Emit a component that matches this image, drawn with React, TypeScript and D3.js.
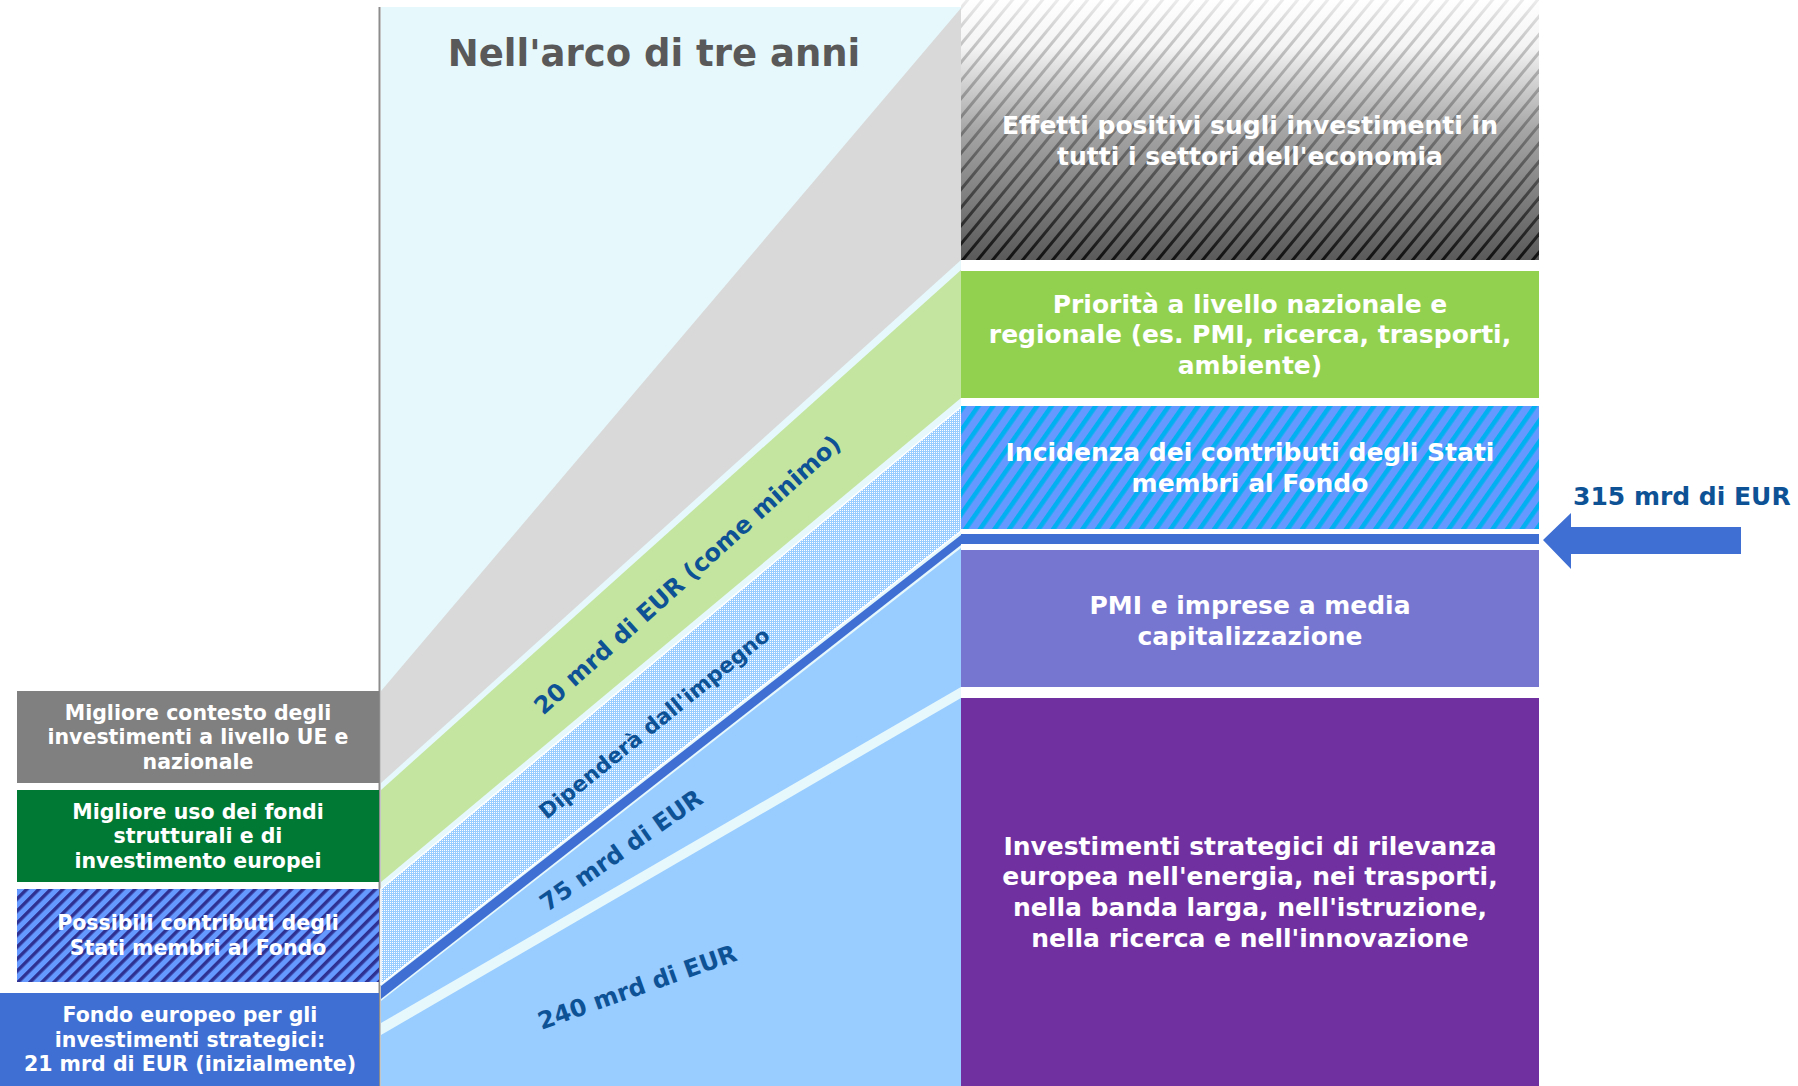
import React from 'react';
import * as d3 from 'd3';

// ---- content ----
const title = "Nell'arco di tre anni";

const sourceLines: string[][] = [
  ['Migliore contesto degli', 'investimenti a livello UE e', 'nazionale'],
  ['Migliore uso dei fondi', 'strutturali e di', 'investimento europei'],
  ['Possibili contributi degli', 'Stati membri al Fondo'],
  ['Fondo europeo per gli', 'investimenti strategici:', '21 mrd di EUR (inizialmente)'],
];

const bandLabels: string[] = ['', '20 mrd di EUR (come minimo)', "Dipenderà dall'impegno", '', '75 mrd di EUR', '240 mrd di EUR'];

const targetLines: string[][] = [
  ['Effetti positivi sugli investimenti in', "tutti i settori dell'economia"],
  ['Priorità a livello nazionale e', 'regionale (es. PMI, ricerca, trasporti,', 'ambiente)'],
  ['Incidenza dei contributi degli Stati', 'membri al Fondo'],
  [],
  ['PMI e imprese a media', 'capitalizzazione'],
  ['Investimenti strategici di rilevanza', "europea nell'energia, nei trasporti,", "nella banda larga, nell'istruzione,", "nella ricerca e nell'innovazione"],
];

const totalLabel = '315 mrd di EUR';

// ---- layout ----
const W = 1798, H = 1086;
const midX0 = 381, midX1 = 961, rightX1 = 1539;
const FONT = "'DejaVu Sans', Verdana, sans-serif";
const LABEL_BLUE = '#0e5296';

const sourceBoxes = [[17, 379, 691, 783], [17, 379, 790, 882], [17, 379, 889, 982], [0, 379, 993, 1086]];
const sourceFills = ['#808080', '#007934', 'url(#navyStripes)', '#3f6fd3'];

const leftEdge = [[691, 783], [790, 882], [889, 984], [986, 999], [1001, 1023], [1035, 1086]];
const rightEdge = [[8, 260], [270, 398], [407, 531], [535, 545], [548, 687], [698, 1086]];
const bandFills = ['#d9d9d9', '#c4e5a0', 'url(#checker)', '#3f6fd3', '#99ccff', '#99ccff'];

const panelSpans = [[0, 260], [271, 398], [406, 529], [534, 544], [550, 687], [698, 1086]];
const panelFills = ['url(#grayBg)', '#92d050', 'url(#blueStripes)', '#3f6fd3', '#7676d1', '#7030a0'];
const panelShift = [11, 0, 0, 0, 2, 0];

const labelPos = [null, { x: 693, y: 581, a: -42, fs: 24 }, { x: 659, y: 729, a: -39, fs: 21.5 }, null, { x: 626, y: 857, a: -35, fs: 24 }, { x: 640, y: 995, a: -19.5, fs: 24 }];

const arrowPts: [number, number][] = [[1543, 540], [1571, 513], [1571, 527], [1741, 527], [1741, 554], [1571, 554], [1571, 569]];

const xScale = d3.scaleLinear().domain([0, 1]).range([midX0, midX1]);

const bandPath = (i: number) => {
  const top = d3.interpolateNumber(leftEdge[i][0], rightEdge[i][0]);
  const bot = d3.interpolateNumber(leftEdge[i][1], rightEdge[i][1]);
  return d3.area<number>().x(t => xScale(t)).y0(top).y1(bot)([0, 1]) ?? '';
};

const Lines = ({ lines, cx, cy, fs, lh }: { lines: string[]; cx: number; cy: number; fs: number; lh: number }) => (
  <text textAnchor="middle" fontFamily={FONT} fontWeight="bold" fontSize={fs} fill="#fff">
    {lines.map((l, i) => (
      <tspan key={i} x={cx} y={cy + (i - (lines.length - 1) / 2) * lh + fs * 0.35}>{l}</tspan>
    ))}
  </text>
);

const App = () => {
  const stripeXs = d3.range(midX1 - 240, rightX1 + 15, 15);
  const dxStripe = 260 / Math.tan((50 * Math.PI) / 180);

  return (
    <svg width={W} height={H} style={{ position: 'absolute', left: 0, top: 0, display: 'block' }}>
      <defs>
        <pattern id="checker" width={2} height={2} patternUnits="userSpaceOnUse">
          <rect width={2} height={2} fill="#99ccff" />
          <rect width={1} height={1} fill="#ffffff" />
        </pattern>
        <pattern id="navyStripes" width={8.5} height={10} patternUnits="userSpaceOnUse" patternTransform="rotate(45)">
          <rect width={8.5} height={10} fill="#6699ff" />
          <rect width={3.4} height={10} fill="#2e3192" />
        </pattern>
        <pattern id="blueStripes" width={12} height={10} patternUnits="userSpaceOnUse" patternTransform="rotate(35)">
          <rect width={12} height={10} fill="#6699ff" />
          <rect width={4.6} height={10} fill="#00b0f0" />
        </pattern>
        <linearGradient id="grayBg" x1={0} y1={0} x2={0} y2={1}>
          <stop offset="0" stopColor="#ffffff" />
          <stop offset="0.18" stopColor="#f4f4f4" />
          <stop offset="0.5" stopColor="#a6a6a6" />
          <stop offset="1" stopColor="#5a5a5a" />
        </linearGradient>
        <linearGradient id="grayLine" gradientUnits="userSpaceOnUse" x1={0} y1={0} x2={0} y2={260}>
          <stop offset="0" stopColor="#ececec" />
          <stop offset="0.5" stopColor="#767676" />
          <stop offset="1" stopColor="#111111" />
        </linearGradient>
        <clipPath id="grayClip">
          <rect x={midX1} y={panelSpans[0][0]} width={rightX1 - midX1} height={panelSpans[0][1] - panelSpans[0][0]} />
        </clipPath>
      </defs>

      {/* middle panel background */}
      <rect x={midX0} y={7} width={midX1 - midX0} height={H - 7} fill="#e6f8fc" />
      <line x1={379.5} x2={379.5} y1={7} y2={H} stroke="#8c8c8c" strokeWidth={2} />

      {/* diagonal bands */}
      {bandFills.map((f, i) => (
        <path key={i} d={bandPath(i)} fill={f} stroke={i === 2 ? '#ffffff' : 'none'} strokeWidth={1.5} />
      ))}

      <text x={654} y={66} textAnchor="middle" fontFamily={FONT} fontWeight="bold" fontSize={37} fill="#595959">{title}</text>

      {bandLabels.map((l, i) => {
        const p = labelPos[i];
        if (!l || !p) return null;
        return (
          <text key={i} transform={`translate(${p.x},${p.y}) rotate(${p.a})`} textAnchor="middle"
            fontFamily={FONT} fontWeight="bold" fontSize={p.fs} fill={LABEL_BLUE}>{l}</text>
        );
      })}

      {/* left source boxes */}
      {sourceBoxes.map(([x0, x1, y0, y1], i) => (
        <g key={i}>
          <rect x={x0} y={y0} width={x1 - x0} height={y1 - y0} fill={sourceFills[i]} />
          <Lines lines={sourceLines[i]} cx={i === 3 ? 190 : 198} cy={(y0 + y1) / 2} fs={20.5} lh={24.5} />
        </g>
      ))}

      {/* right target panels */}
      {panelSpans.map(([y0, y1], i) => (
        <g key={i}>
          <rect x={midX1} y={y0} width={rightX1 - midX1} height={y1 - y0} fill={panelFills[i]} />
          {i === 0 && (
            <g clipPath="url(#grayClip)">
              {stripeXs.map(x => (
                <line key={x} x1={x} y1={262} x2={x + dxStripe} y2={-2} stroke="url(#grayLine)" strokeWidth={3} />
              ))}
            </g>
          )}
          {targetLines[i].length > 0 && (
            <Lines lines={targetLines[i]} cx={(midX1 + rightX1) / 2} cy={(y0 + y1) / 2 + panelShift[i]} fs={25} lh={30.7} />
          )}
        </g>
      ))}

      {/* total arrow */}
      <path d={(d3.line()(arrowPts) ?? '') + 'Z'} fill="#3f6fd3" />
      <text x={1573} y={505} fontFamily={FONT} fontWeight="bold" fontSize={25} fill={LABEL_BLUE}>{totalLabel}</text>
    </svg>
  );
};

export default App;
